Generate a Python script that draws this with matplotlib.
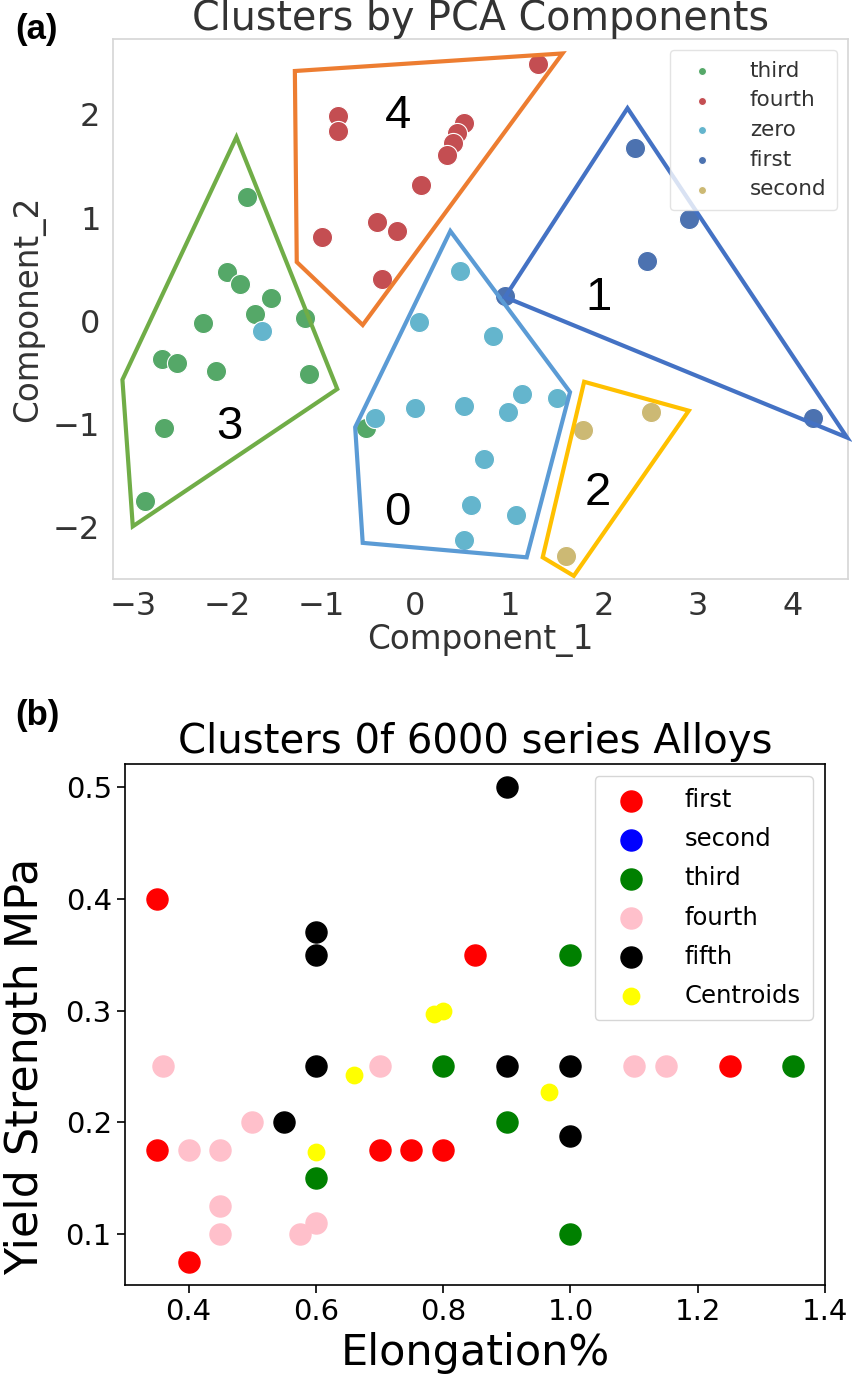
import numpy as np
import matplotlib
matplotlib.use("Agg")
import matplotlib.pyplot as plt
from matplotlib.patches import Polygon


# ---- panel (a): PCA clusters ----
third_x = [-1.79, -2.00, -1.86, -1.53, -1.70, -1.17, -2.25, -2.69, -2.53, -2.12, -1.13, -2.67, -2.87, -0.52]
third_y = [1.20, 0.47, 0.36, 0.22, 0.07, 0.03, -0.02, -0.37, -0.41, -0.49, -0.51, -1.04, -1.74, -1.04]
fourth_x = [-0.82, -0.82, 0.52, 0.44, 0.40, 0.33, 0.06, -0.41, -0.20, -0.99, -0.36, 1.30]
fourth_y = [1.98, 1.84, 1.92, 1.82, 1.72, 1.61, 1.32, 0.96, 0.87, 0.81, 0.41, 2.49]
zero_x = [-1.63, 0.47, 0.04, 0.82, -0.43, -0.01, 0.52, 1.13, 1.50, 0.98, 0.73, 0.59, 1.07, 0.52]
zero_y = [-0.10, 0.48, -0.01, -0.15, -0.94, -0.84, -0.82, -0.71, -0.75, -0.88, -1.34, -1.78, -1.88, -2.12]
first_x = [0.95, 2.33, 2.90, 2.46, 4.22]
first_y = [0.24, 1.67, 0.99, 0.58, -0.94]
second_x = [1.78, 2.50, 1.60]
second_y = [-1.06, -0.88, -2.28]

# hand drawn cluster outlines (data coords)
hull3 = [(-1.90, 1.78), (-0.83, -0.66), (-3.00, -1.99), (-3.11, -0.57)]
hull4 = [(-1.28, 2.42), (1.56, 2.59), (-0.56, -0.04), (-1.26, 0.57)]
hull0 = [(0.37, 0.87), (1.64, -0.69), (1.18, -2.29), (-0.56, -2.15), (-0.64, -1.03)]
hull1 = [(0.95, 0.23), (2.25, 2.06), (4.58, -1.13)]
hull2 = [(1.79, -0.59), (2.90, -0.87), (1.68, -2.47), (1.35, -2.29)]
hull_names = ["3", "4", "0", "1", "2"]
name_x = [-1.97, -0.19, -0.19, 1.94, 1.93]
name_y = [-1.03, 1.98, -1.86, 0.22, -1.67]

# ---- panel (b): alloys ----
b_first_x = [0.35, 0.85, 0.35, 0.70, 0.75, 0.80, 0.40, 1.25]
b_first_y = [0.40, 0.35, 0.175, 0.175, 0.175, 0.175, 0.075, 0.25]
b_second_x = []
b_second_y = []
b_third_x = [1.0, 0.8, 1.35, 0.9, 0.6, 1.0]
b_third_y = [0.35, 0.25, 0.25, 0.20, 0.15, 0.10]
b_fourth_x = [0.36, 0.70, 1.10, 1.15, 0.50, 0.40, 0.45, 0.45, 0.45, 0.575, 0.60]
b_fourth_y = [0.25, 0.25, 0.25, 0.25, 0.20, 0.175, 0.175, 0.125, 0.10, 0.10, 0.11]
b_fifth_x = [0.9, 0.6, 0.6, 0.6, 0.9, 1.0, 0.55, 1.0]
b_fifth_y = [0.50, 0.37, 0.35, 0.25, 0.25, 0.25, 0.20, 0.1875]
cent_x = [0.785, 0.80, 0.66, 0.966, 0.60]
cent_y = [0.297, 0.30, 0.242, 0.227, 0.173]


fig = plt.figure(figsize=(8.53, 13.85), dpi=100)

gray = "#333333"
axa = fig.add_axes([113 / 853, 1 - 579 / 1385, 735 / 853, 540 / 1385])
axa.scatter(third_x, third_y, s=210, c="#55A868", edgecolors="white", linewidths=0.8, label="third", zorder=3)
axa.scatter(fourth_x, fourth_y, s=210, c="#C44E52", edgecolors="white", linewidths=0.8, label="fourth", zorder=3)
axa.scatter(zero_x, zero_y, s=210, c="#64B5CD", edgecolors="white", linewidths=0.8, label="zero", zorder=3)
axa.scatter(first_x, first_y, s=210, c="#4C72B0", edgecolors="white", linewidths=0.8, label="first", zorder=3)
axa.scatter(second_x, second_y, s=210, c="#CCB974", edgecolors="white", linewidths=0.8, label="second", zorder=3)

hulls = [hull3, hull4, hull0, hull1, hull2]
hull_cols = ["#70AD47", "#ED7D31", "#5B9BD5", "#4472C4", "#FFC000"]
for h, col in zip(hulls, hull_cols):
    axa.add_patch(Polygon(h, closed=True, fill=False, ec=col, lw=3, zorder=4, clip_on=False))
for t, x, y in zip(hull_names, name_x, name_y):
    axa.text(x, y, t, fontsize=34, ha="center", va="center", color="black",
             family="Liberation Sans", zorder=5)

axa.set_xlim(-3.21, 4.59)
axa.set_ylim(-2.50, 2.73)
axa.set_xticks([-3, -2, -1, 0, 1, 2, 3, 4])
axa.set_yticks([-2, -1, 0, 1, 2])
axa.tick_params(length=0, labelsize=23, labelcolor=gray, pad=9)
for sp in axa.spines.values():
    sp.set_color("#d6d6d6")
    sp.set_linewidth(1.2)
axa.set_title("Clusters by PCA Components", fontsize=28.5, color=gray, pad=5)
axa.set_xlabel("Component_1", fontsize=23.5, color=gray, labelpad=1)
axa.set_ylabel("Component_2", fontsize=23.5, color=gray, labelpad=6)
lega = axa.legend(loc="upper right", fontsize=15.5, markerscale=0.4, labelcolor=gray,
                  handletextpad=1.2, borderpad=0.5, labelspacing=0.45, framealpha=0.8)
lega.get_frame().set_edgecolor("#dddddd")

# ---- panel (b)
axb = fig.add_axes([125 / 853, 1 - 1285 / 1385, 700 / 853, 521 / 1385])
axb.scatter(b_first_x, b_first_y, s=230, c="red", label="first", zorder=3)
axb.scatter(b_second_x, b_second_y, s=230, c="blue", label="second", zorder=3)
axb.scatter(b_third_x, b_third_y, s=230, c="green", label="third", zorder=3)
axb.scatter(b_fourth_x, b_fourth_y, s=230, c="pink", label="fourth", zorder=3)
axb.scatter(b_fifth_x, b_fifth_y, s=230, c="black", label="fifth", zorder=3)
axb.scatter(cent_x, cent_y, s=140, c="yellow", label="Centroids", zorder=4)
axb.set_xlim(0.30, 1.40)
axb.set_ylim(0.054, 0.521)
axb.set_xticks([0.4, 0.6, 0.8, 1.0, 1.2, 1.4])
axb.set_yticks([0.1, 0.2, 0.3, 0.4, 0.5])
axb.tick_params(labelsize=21, length=6, width=1.2)
for sp in axb.spines.values():
    sp.set_linewidth(1.2)
axb.set_title("Clusters 0f 6000 series Alloys", fontsize=29, pad=8)
axb.set_xlabel("Elongation%", fontsize=31, labelpad=4)
axb.set_ylabel("Yield Strength MPa", fontsize=32)
axb.yaxis.set_label_coords(-0.112, 0.42)
axb.legend(loc="upper right", fontsize=17.5, handletextpad=1.2, labelspacing=0.62, borderpad=0.5)

fig.text(15 / 853, 1 - 30 / 1385, "(a)", fontsize=25, fontweight="bold",
         family="Liberation Sans", ha="left", va="center")
fig.text(15 / 853, 1 - 716 / 1385, "(b)", fontsize=25, fontweight="bold",
         family="Liberation Sans", ha="left", va="center")

fig.savefig("out.png", dpi=100)
